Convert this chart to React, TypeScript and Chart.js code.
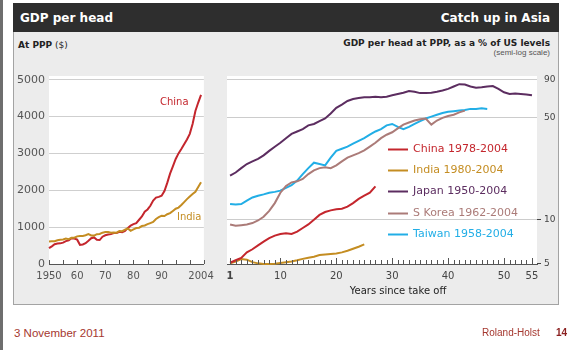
import React, { useEffect, useRef } from 'react';
import { Chart, registerables } from 'chart.js';

Chart.register(...registerables);

// ---------- Left panel: GDP per head at PPP ($) ----------
const FIRST_YEAR = 1950;
const chinaGdp = [
  430, 480, 535, 555, 560, 580, 620, 640, 700, 690,
  660, 520, 530, 565, 630, 700, 720, 660, 650, 740,
  780, 800, 810, 840, 840, 875, 860, 900, 980, 1040,
  1080, 1110, 1200, 1290, 1420, 1480, 1580, 1720, 1800, 1820,
  1850, 1980, 2200, 2450, 2650, 2850, 3000, 3120, 3250, 3380,
  3530, 3800, 4150, 4380, 4590,
];
const indiaGdp = [
  610, 615, 620, 645, 655, 665, 690, 675, 710, 715,
  750, 760, 760, 780, 810, 775, 770, 810, 815, 850,
  870, 865, 850, 855, 850, 895, 890, 935, 965, 900,
  940, 975, 985, 1030, 1045, 1080, 1110, 1140, 1220, 1270,
  1310, 1300, 1350, 1380, 1440, 1500, 1530, 1600, 1680, 1760,
  1830, 1900, 1960, 2090, 2220,
];
const leftTickYears = [1950, 1960, 1970, 1980, 1990, 2004];
const leftTickLabels = ['1950', '60', '70', '80', '90', '2004'];
const leftYTicks = [0, 1000, 2000, 3000, 4000, 5000];
const leftMinorTicks = [1950, 1955, 1960, 1965, 1970, 1975, 1980, 1985, 1990, 1995, 2000, 2005];

// ---------- Right panel: % of US level, years since take-off ----------
const chinaPct = [
  5.1, 5.3, 5.5, 6.0, 6.3, 6.7, 7.1, 7.5, 7.8, 8.0,
  8.1, 8.0, 8.3, 8.8, 9.3, 10.0, 10.8, 11.3, 11.6, 11.8,
  11.9, 12.3, 13.0, 13.9, 14.6, 15.3, 16.9,
];
const indiaPct = [
  5.05, 5.2, 5.4, 5.35, 5.15, 5.05, 5.0, 5.0, 5.02, 5.08,
  5.14, 5.2, 5.3, 5.42, 5.52, 5.6, 5.75, 5.8, 5.85, 5.9,
  6.0, 6.15, 6.35, 6.55, 6.8,
];
const japanPct = [
  20, 21, 22.5, 24, 25, 26, 27.5, 29.5, 31.5, 33.5,
  36, 38.5, 40, 41.5, 44, 45, 47, 49, 53, 58,
  61, 64.5, 66.5, 67.5, 68.5, 68.5, 69, 68.5, 69, 70.5,
  72, 73.5, 75.5, 74.5, 73, 73, 73.5, 74.5, 76, 78,
  81, 84, 83.5, 81, 79.5, 80, 81, 81.5, 78, 74,
  72, 72.5, 72, 71.5, 70.5,
];
const koreaPct = [
  9.3, 9.1, 9.2, 9.3, 9.5, 9.9, 10.5, 11.5, 13, 15.3,
  17, 18, 18.3, 19, 20.5, 21.7, 22.5, 22.8, 22.5, 23.5,
  25, 26.5, 27.5, 28.5, 29.7, 31.5, 33.5, 36, 38, 39.5,
  42, 44.5, 46, 47.5, 48.5, 49, 44.5, 47.5, 49.5, 51,
  52, 54, 55.5,
];
const taiwanPct = [
  12.8, 12.7, 12.8, 13.5, 14.2, 14.6, 14.9, 15.3, 15.5, 15.8,
  16.5, 17.2, 18.5, 20.5, 22.5, 24.5, 24, 23.5, 26.5, 29.5,
  30.5, 31.5, 33, 34.5, 36, 38, 40, 41.5, 44, 45,
  43, 41.5, 43, 45, 47, 49, 50.5, 52, 53.5, 54.5,
  55, 55.5, 56, 57, 57, 57.5, 57,
];
const rightXTicks = [1, 10, 20, 30, 40, 50, 55];
const rightYTicks = [5, 10, 50, 90];
const rightYTickMarks = [5, 10];
const legendLabels = [
  'China 1978-2004',
  'India 1980-2004',
  'Japan 1950-2004',
  'S Korea 1962-2004',
  'Taiwan 1958-2004',
];

const C_CHINA = '#c4262d';
const C_INDIA = '#c48d22';
const C_JAPAN = '#5c2d60';
const C_KOREA = '#ab7b78';
const C_TAIWAN = '#22aee6';
const FONT = 'DejaVu Sans';

// ---------- plugins ----------
const plotBg = {
  id: 'plotBg',
  beforeDraw(chart: any, _args: any, opts: any) {
    const { ctx, chartArea: a } = chart;
    const extra = (opts && opts.extraTop) || 0;
    ctx.save();
    ctx.fillStyle = '#ffffff';
    ctx.fillRect(a.left, a.top - extra, a.right - a.left, a.bottom - a.top + extra);
    ctx.restore();
  },
};

const innerTicks = {
  id: 'innerTicks',
  afterDatasetsDraw(chart: any, _args: any, opts: any) {
    const { ctx, chartArea: a } = chart;
    const xs = chart.scales.x;
    ctx.save();
    ctx.strokeStyle = opts.color;
    ctx.lineWidth = 1;
    for (const t of opts.values) {
      const px = Math.round(xs.getPixelForValue(t.v)) + 0.5;
      ctx.beginPath();
      ctx.moveTo(px, a.bottom);
      ctx.lineTo(px, a.bottom - t.len);
      ctx.stroke();
    }
    ctx.restore();
  },
};

// value labels of the right-hand (log) axis, placed through the y scale
const rightAxisLabels = {
  id: 'rightAxisLabels',
  afterDraw(chart: any, _args: any, opts: any) {
    const { ctx, chartArea: a } = chart;
    const ys = chart.scales.y;
    ctx.save();
    ctx.font = opts.font;
    ctx.fillStyle = opts.color;
    ctx.strokeStyle = opts.color;
    ctx.lineWidth = 1;
    ctx.textAlign = 'left';
    ctx.textBaseline = 'middle';
    for (const v of opts.values) {
      const py = ys.getPixelForValue(v);
      ctx.fillText(String(v), a.right + opts.offset, py);
    }
    for (const v of opts.marks) {
      const py = Math.round(ys.getPixelForValue(v)) - 0.5;
      ctx.beginPath();
      ctx.moveTo(a.right, py);
      ctx.lineTo(a.right + 4, py);
      ctx.stroke();
    }
    ctx.restore();
  },
};

const seriesLabels = {
  id: 'seriesLabels',
  afterDatasetsDraw(chart: any, _args: any, opts: any) {
    const { ctx } = chart;
    const xs = chart.scales.x;
    const ys = chart.scales.y;
    ctx.save();
    ctx.font = opts.font;
    ctx.textAlign = 'center';
    ctx.textBaseline = 'middle';
    for (const l of opts.items) {
      ctx.fillStyle = l.color;
      ctx.fillText(l.text, xs.getPixelForValue(l.x), ys.getPixelForValue(l.y));
    }
    ctx.restore();
  },
};

const insideLegend = {
  id: 'insideLegend',
  afterDatasetsDraw(chart: any, _args: any, opts: any) {
    const { ctx, chartArea: a } = chart;
    ctx.save();
    ctx.font = opts.font;
    ctx.textBaseline = 'middle';
    ctx.textAlign = 'left';
    chart.data.datasets.forEach((ds: any, i: number) => {
      const y = Math.round(a.top + opts.top + i * opts.rowHeight) + 0.5;
      const x0 = a.left + opts.left;
      ctx.strokeStyle = ds.borderColor;
      ctx.lineWidth = 2;
      ctx.beginPath();
      ctx.moveTo(x0, y);
      ctx.lineTo(x0 + opts.lineLength, y);
      ctx.stroke();
      ctx.fillStyle = ds.borderColor;
      ctx.fillText(ds.label, x0 + opts.lineLength + opts.gap, y);
    });
    ctx.restore();
  },
};

const lineDs = (label: string, values: number[], start: number, color: string) => ({
  label,
  data: values.map((v, i) => ({ x: start + i, y: v })),
  borderColor: color,
  backgroundColor: color,
  borderWidth: 2,
  pointRadius: 0,
  tension: 0,
  fill: false,
  clip: 3,
});

function LeftChart() {
  const ref = useRef<HTMLCanvasElement>(null);
  useEffect(() => {
    const minor = leftMinorTicks.map((v) => ({ v, len: 4 }));
    const chart = new Chart(ref.current as HTMLCanvasElement, {
      type: 'line',
      data: {
        datasets: [
          lineDs('India', indiaGdp, FIRST_YEAR, C_INDIA),
          lineDs('China', chinaGdp, FIRST_YEAR, C_CHINA),
        ],
      },
      options: {
        responsive: false,
        animation: false,
        devicePixelRatio: 1,
        layout: { padding: { top: 16, right: 13, left: 0, bottom: 0 } },
        plugins: {
          legend: { display: false },
          tooltip: { enabled: false },
          innerTicks: { color: '#555', values: minor },
          seriesLabels: {
            font: `10px "${FONT}"`,
            items: [
              { text: 'China', x: 1994.5, y: 4375, color: C_CHINA },
              { text: 'India', x: 1999.8, y: 1277, color: C_INDIA },
            ],
          },
        } as any,
        scales: {
          x: {
            type: 'linear',
            min: 1950,
            max: 2005,
            grid: { display: false, drawTicks: false },
            border: { display: true, color: '#555', width: 1 },
            afterBuildTicks: (s: any) => {
              s.ticks = leftTickYears.map((v) => ({ value: v }));
            },
            afterFit: (s: any) => {
              s.height = 36;
            },
            ticks: {
              autoSkip: false,
              maxRotation: 0,
              padding: 6,
              color: '#555',
              font: { family: FONT, size: 10 },
              callback: (v: any) => {
                const i = leftTickYears.indexOf(Number(v));
                return i >= 0 ? leftTickLabels[i] : '';
              },
            },
          },
          y: {
            type: 'linear',
            min: 0,
            max: 5100,
            grid: {
              drawTicks: false,
              color: (c: any) => (c.tick && c.tick.value === 0 ? 'rgba(0,0,0,0)' : '#cfcfcf'),
            },
            border: { display: false },
            afterBuildTicks: (s: any) => {
              s.ticks = leftYTicks.map((v) => ({ value: v }));
            },
            afterFit: (s: any) => {
              s.width = 49;
            },
            ticks: {
              autoSkip: false,
              padding: 4,
              color: '#555',
              font: { family: FONT, size: 11 },
              callback: (v: any) => String(v),
            },
          },
        },
      },
      plugins: [plotBg, innerTicks, seriesLabels],
    } as any);
    return () => chart.destroy();
  }, []);
  return (
    <canvas
      ref={ref}
      width={220}
      height={240}
      style={{ position: 'absolute', left: 0, top: 60, width: 220, height: 240 }}
    />
  );
}

function RightChart() {
  const ref = useRef<HTMLCanvasElement>(null);
  useEffect(() => {
    const minor: { v: number; len: number }[] = [];
    for (let v = 1; v <= 55; v++) minor.push({ v, len: v % 10 === 0 || v === 1 || v === 55 ? 6 : 4 });
    const chart = new Chart(ref.current as HTMLCanvasElement, {
      type: 'line',
      data: {
        datasets: [
          lineDs(legendLabels[0], chinaPct, 1, C_CHINA),
          lineDs(legendLabels[1], indiaPct, 1, C_INDIA),
          lineDs(legendLabels[2], japanPct, 1, C_JAPAN),
          lineDs(legendLabels[3], koreaPct, 1, C_KOREA),
          lineDs(legendLabels[4], taiwanPct, 1, C_TAIWAN),
        ],
      },
      options: {
        responsive: false,
        animation: false,
        devicePixelRatio: 1,
        layout: { padding: { top: 17, right: 0, left: 7, bottom: 0 } },
        plugins: {
          legend: { display: false },
          tooltip: { enabled: false },
          plotBg: { extraTop: 1 },
          innerTicks: { color: '#555', values: minor },
          rightAxisLabels: {
            font: `9px "${FONT}"`,
            color: '#444',
            offset: 7,
            values: rightYTicks,
            marks: rightYTickMarks,
          },
          insideLegend: {
            font: `11px "${FONT}"`,
            left: 161,
            top: 72,
            rowHeight: 21.2,
            lineLength: 20,
            gap: 5,
          },
        } as any,
        scales: {
          x: {
            type: 'linear',
            min: 0.45,
            max: 55.9,
            grid: { display: false, drawTicks: false },
            border: { display: true, color: '#555', width: 1 },
            afterBuildTicks: (s: any) => {
              s.ticks = rightXTicks.map((v) => ({ value: v }));
            },
            afterFit: (s: any) => {
              s.height = 41;
            },
            ticks: {
              autoSkip: false,
              maxRotation: 0,
              padding: 6,
              color: '#444',
              font: (c: any) => ({
                family: FONT,
                size: 10,
                weight: c.tick && c.tick.value === 1 ? 'bold' : 'normal',
              }),
              callback: (v: any) => String(v),
            },
          },
          y: {
            type: 'logarithmic',
            position: 'right',
            min: 5,
            max: 94,
            grid: {
              drawTicks: false,
              color: (c: any) => (c.tick && c.tick.value === 5 ? 'rgba(0,0,0,0)' : '#cccccc'),
            },
            border: { display: false },
            afterBuildTicks: (s: any) => {
              s.ticks = rightYTicks.map((v) => ({ value: v }));
            },
            afterFit: (s: any) => {
              s.width = 33;
            },
            ticks: { display: false },
          },
        },
      },
      plugins: [plotBg, innerTicks, rightAxisLabels, insideLegend],
    } as any);
    return () => chart.destroy();
  }, []);
  return (
    <canvas
      ref={ref}
      width={350}
      height={245}
      style={{ position: 'absolute', left: 220, top: 60, width: 350, height: 245 }}
    />
  );
}

type TxtProps = {
  left?: number;
  right?: number;
  cx?: number;
  cy: number;
  size: number;
  color: string;
  bold?: boolean;
  family?: string;
  children: React.ReactNode;
};

function Txt({ left, right, cx, cy, size, color, bold, family, children }: TxtProps) {
  const lh = Math.round(size * 1.3);
  const style: React.CSSProperties = {
    position: 'absolute',
    top: cy - lh / 2,
    lineHeight: `${lh}px`,
    fontSize: size,
    fontFamily: family || FONT,
    fontWeight: bold ? 'bold' : 'normal',
    color,
    whiteSpace: 'nowrap',
  };
  if (left !== undefined) style.left = left;
  if (right !== undefined) {
    style.right = 579 - right;
    style.textAlign = 'right';
  }
  if (cx !== undefined) {
    style.left = cx;
    style.transform = 'translateX(-50%)';
  }
  return <div style={style}>{children}</div>;
}

export default function App() {
  return (
    <div
      style={{
        position: 'fixed',
        left: 0,
        top: 0,
        width: 579,
        height: 350,
        background: '#ffffff',
        overflow: 'hidden',
      }}
    >
      <div style={{ position: 'absolute', left: 0, top: 0, width: 3, height: 350, background: '#6e6e6e' }} />
      <div
        style={{
          position: 'absolute',
          left: 13,
          top: 3,
          width: 546,
          height: 302,
          background: '#ececec',
          border: '1px solid #a3a3a3',
          boxSizing: 'border-box',
        }}
      />
      <div style={{ position: 'absolute', left: 13, top: 3, width: 546, height: 29, background: '#2e2e2e' }} />
      <Txt left={20} cy={18} size={12} color="#ffffff" bold>
        GDP per head
      </Txt>
      <Txt right={550} cy={18} size={12} color="#ffffff" bold>
        Catch up in Asia
      </Txt>
      <Txt left={18} cy={45} size={9} color="#222">
        <b>At PPP</b> ($)
      </Txt>
      <Txt right={550} cy={43} size={9} color="#222" bold>
        GDP per head at PPP, as a % of US levels
      </Txt>
      <Txt right={550} cy={53} size={8} color="#555" family="Liberation Sans Narrow, Liberation Sans">
        (semi-log scale)
      </Txt>

      <LeftChart />
      <RightChart />

      <Txt cx={398} cy={290} size={10} color="#222">
        Years since take off
      </Txt>

      <Txt left={14} cy={333} size={11.5} color="#a5372f" family="Liberation Sans">
        3 November 2011
      </Txt>
      <Txt left={482} cy={332} size={10} color="#a5372f" family="Liberation Sans">
        Roland-Holst
      </Txt>
      <Txt left={556} cy={332} size={10} color="#8b2020" family="Liberation Sans" bold>
        14
      </Txt>
    </div>
  );
}
